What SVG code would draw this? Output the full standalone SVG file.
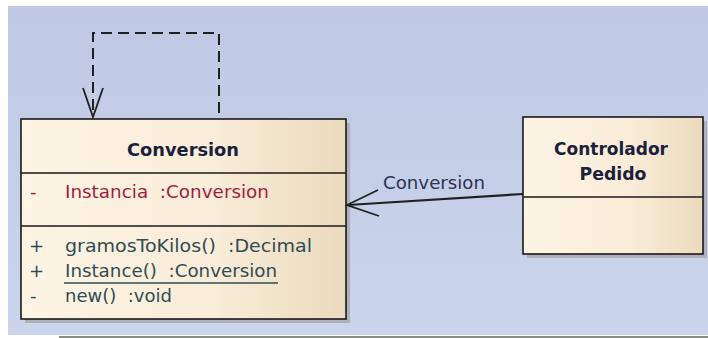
<svg xmlns="http://www.w3.org/2000/svg" width="708" height="338" viewBox="0 0 708 338">
  <defs>
    <linearGradient id="bg" x1="0" y1="0" x2="0" y2="1">
      <stop offset="0" stop-color="#bfc9e4"/>
      <stop offset="1" stop-color="#cad4ea"/>
    </linearGradient>
    <linearGradient id="classFill" x1="0" y1="0" x2="1" y2="0">
      <stop offset="0" stop-color="#fdf4e4"/>
      <stop offset="0.6" stop-color="#f9ecd8"/>
      <stop offset="1" stop-color="#ebdabd"/>
    </linearGradient>
    <style>
      .shadow { fill: #adafb9; }
      .box { fill: url(#classFill); stroke: #1a1a1a; stroke-width: 1.6; }
      .sep { stroke: #1a1a1a; stroke-width: 1.6; }
      .title { font-family: "DejaVu Sans", Verdana, sans-serif; font-weight: bold; font-size: 18px; fill: #1c1f3c; text-anchor: middle; }
      .attr { font-family: "DejaVu Sans", Verdana, sans-serif; font-size: 18px; fill: #9e1f3f; }
      .op { font-family: "DejaVu Sans", Verdana, sans-serif; font-size: 18px; fill: #2f4c55; }
      .label { font-family: "DejaVu Sans", Verdana, sans-serif; font-size: 18px; fill: #2c3450; }
      .dep { fill: none; stroke: #202020; stroke-width: 2; stroke-dasharray: 11 6; }
      .assoc { fill: none; stroke: #202020; stroke-width: 2.2; }
      .head { fill: none; stroke: #202020; stroke-width: 1.8; stroke-linejoin: miter; }
    </style>
  </defs>

  <!-- canvas -->
  <rect x="0" y="0" width="708" height="338" fill="#ffffff"/>
  <rect x="8" y="6" width="700" height="329" fill="url(#bg)"/>
  <rect x="59" y="336" width="649" height="2" fill="#8a8d84"/>

  <!-- class: Conversion -->
  <g id="conversion">
    <rect class="shadow" x="25" y="123" width="325" height="200"/>
    <rect class="box" x="21" y="119" width="325" height="200"/>
    <line class="sep" x1="21" y1="173" x2="346" y2="173"/>
    <line class="sep" x1="21" y1="226" x2="346" y2="226"/>
    <text class="title" x="183" y="156" textLength="112" lengthAdjust="spacingAndGlyphs">Conversion</text>
    <text class="attr" x="30" y="198">-</text>
    <text class="attr" x="65" y="198" textLength="204" lengthAdjust="spacingAndGlyphs" xml:space="preserve">Instancia  :Conversion</text>
    <text class="op" x="29" y="252">+</text>
    <text class="op" x="65" y="252" textLength="247" lengthAdjust="spacingAndGlyphs" xml:space="preserve">gramosToKilos()  :Decimal</text>
    <text class="op" x="29" y="277">+</text>
    <text class="op" x="65" y="277" textLength="212" lengthAdjust="spacingAndGlyphs" xml:space="preserve">Instance()  :Conversion</text>
    <line x1="64" y1="283" x2="278" y2="283" stroke="#2f4c55" stroke-width="1.3"/>
    <text class="op" x="30" y="302">-</text>
    <text class="op" x="65" y="302" textLength="107" lengthAdjust="spacingAndGlyphs" xml:space="preserve">new()  :void</text>
  </g>

  <!-- class: ControladorPedido -->
  <g id="controlador-pedido">
    <rect class="shadow" x="527" y="121" width="180" height="137"/>
    <rect class="box" x="523" y="117" width="180" height="137"/>
    <line class="sep" x1="523" y1="197" x2="703" y2="197"/>
    <text class="title" x="611" y="155" textLength="114" lengthAdjust="spacingAndGlyphs">Controlador</text>
    <text class="title" x="613" y="180" textLength="67" lengthAdjust="spacingAndGlyphs">Pedido</text>
  </g>

  <!-- connectors -->
  <g id="connectors">
    <!-- self dependency on Conversion -->
    <path class="dep" d="M219,113 V33 H93 V116"/>
    <polyline class="head" points="83,88 93,117 103,88"/>
    <!-- association ControladorPedido -> Conversion -->
    <line class="assoc" x1="523" y1="194" x2="348" y2="205"/>
    <polyline class="head" points="378,190 347,205 379,216"/>
    <text class="label" x="383" y="189" textLength="102" lengthAdjust="spacingAndGlyphs">Conversion</text>
  </g>
</svg>
